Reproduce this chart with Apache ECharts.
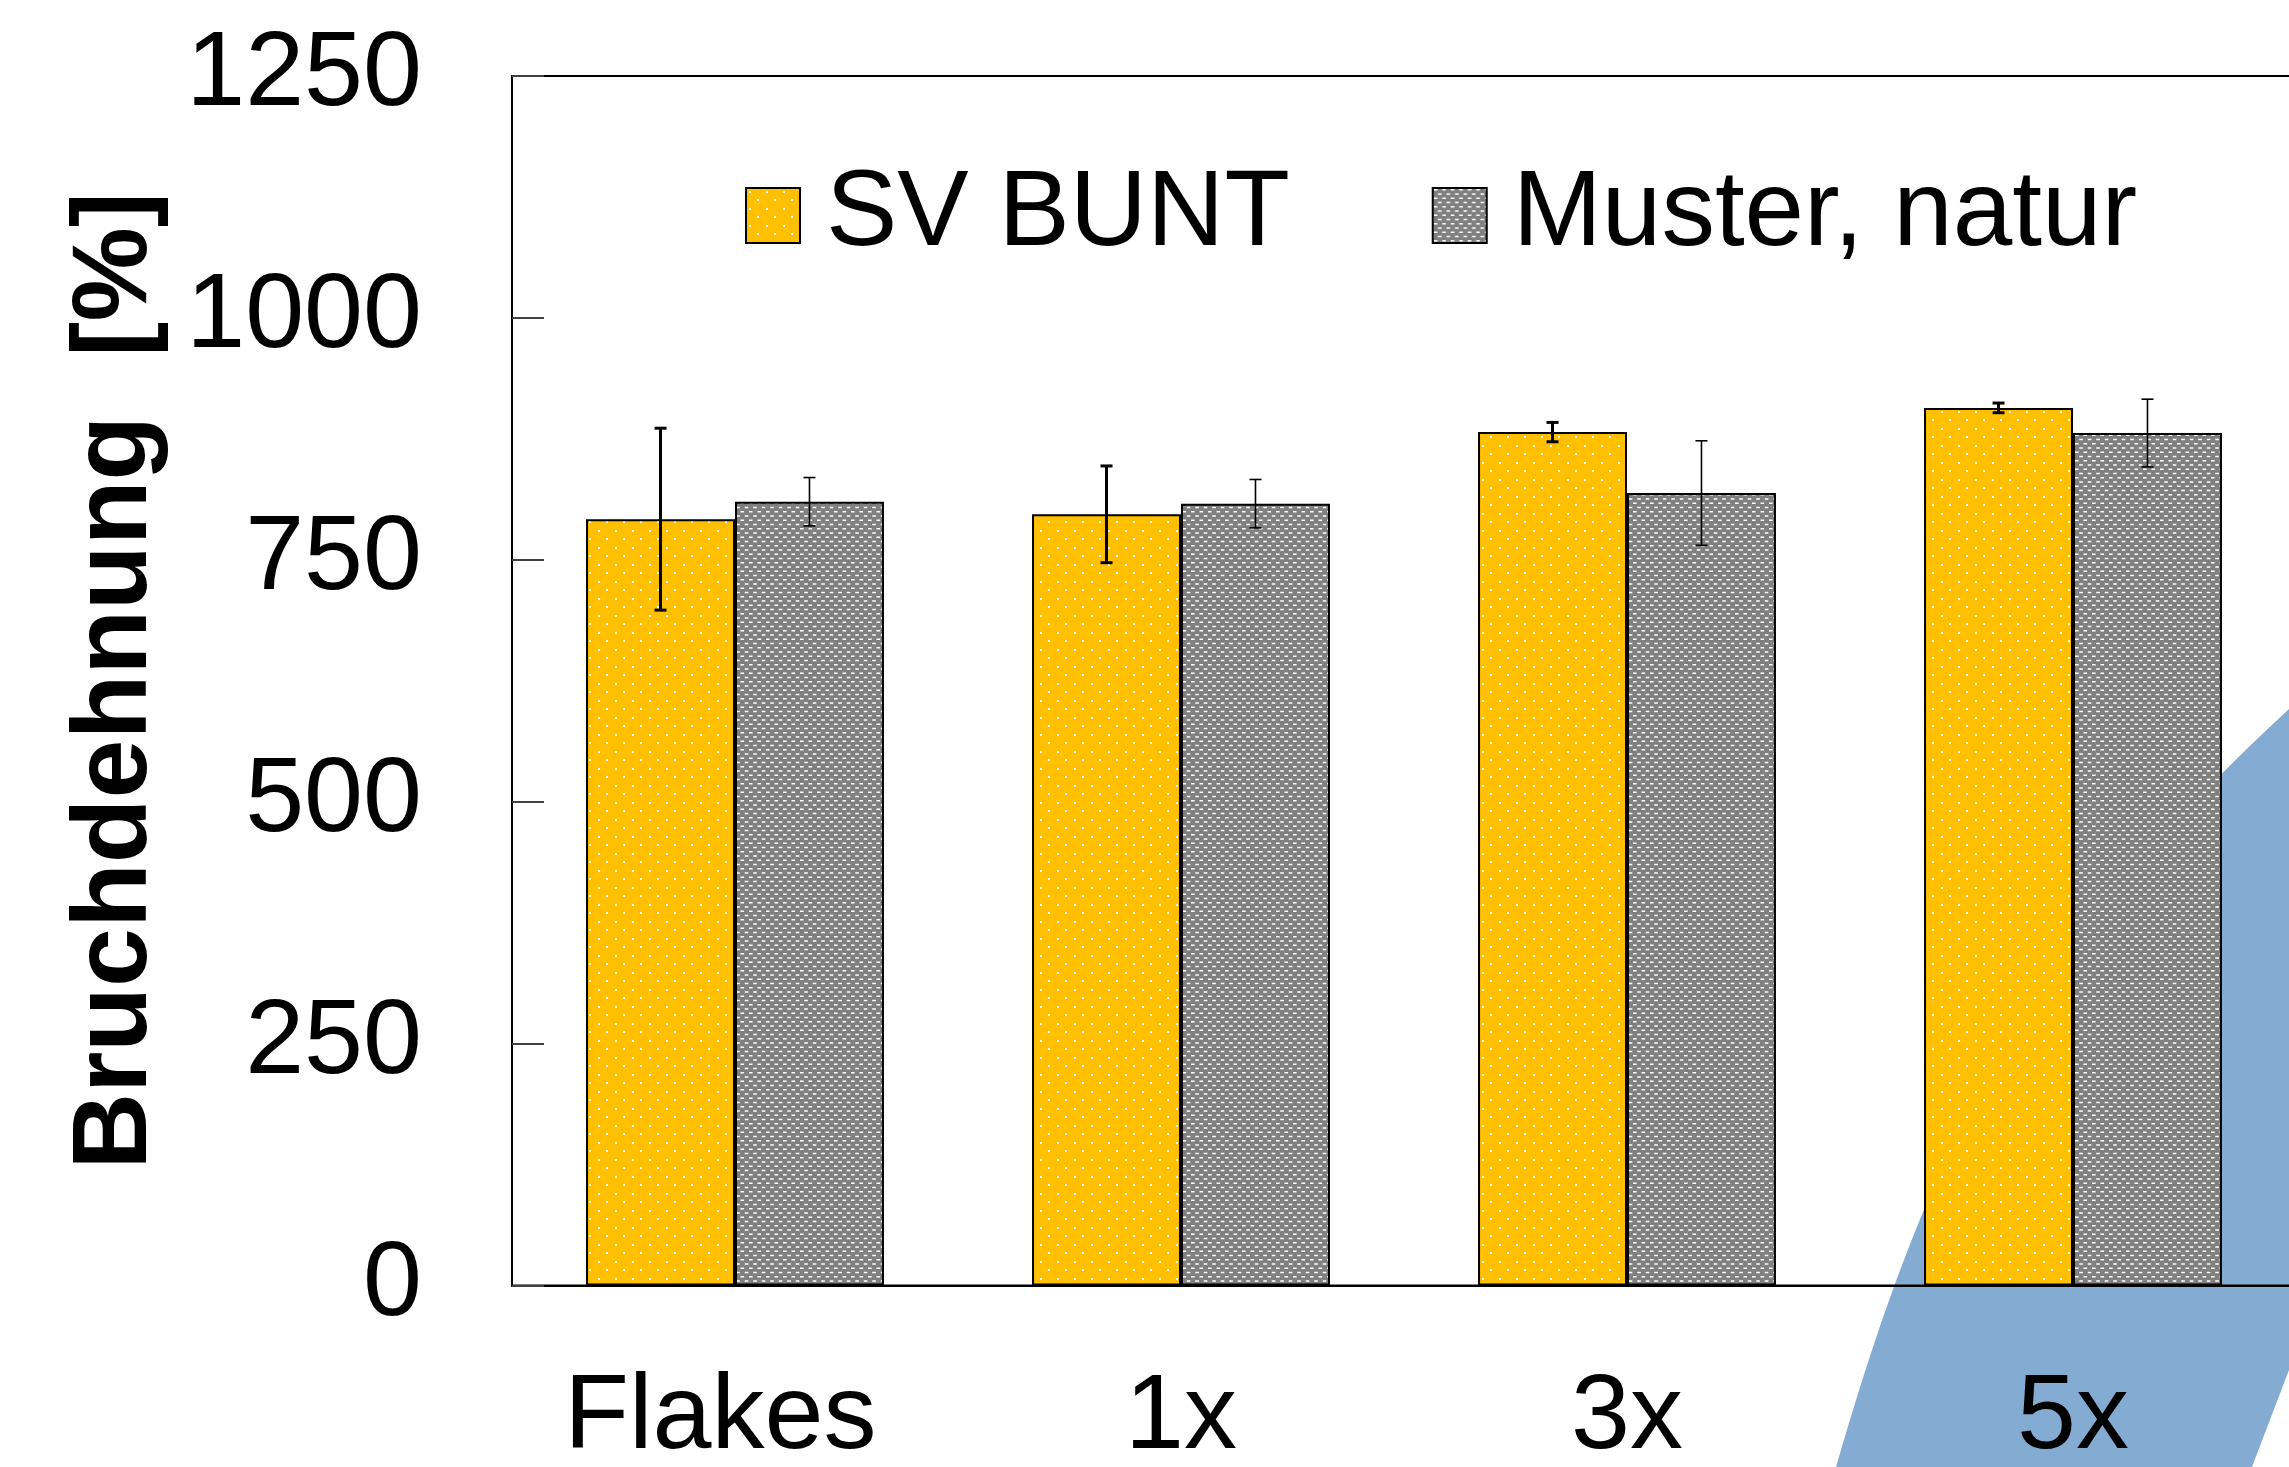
<!DOCTYPE html>
<html><head><meta charset="utf-8">
<script src="https://cdn.jsdelivr.net/npm/echarts@6/dist/echarts.min.js"></script>
<style>html,body{margin:0;padding:0;background:#fff}#c{width:2289px;height:1467px}</style>
</head><body><div id="c"></div>
<script>
// ---- data ----
const categories = ['Flakes', '1x', '3x', '5x'];
const seriesNames = ['SV BUNT', 'Muster, natur'];
const svBunt = [792, 797, 882, 907];
const svBuntErr = [94, 50, 10, 5];
const muster = [810, 808, 819, 881];
const musterErr = [25, 25, 54, 35];
const yMin = 0, yMax = 1250, yStep = 250;
const yAxisTitle = 'Bruchdehnung  [%]';

// ---- patterns ----
function dotPattern() {
  const c = document.createElement('canvas'); c.width = 17; c.height = 17;
  const g = c.getContext('2d');
  g.fillStyle = '#FFC000'; g.fillRect(0, 0, 17, 17);
  g.fillStyle = '#ffffff';
  g.fillRect(3, 3, 2, 2); g.fillRect(11, 11, 2, 2);
  return c;
}
function grayPattern() {
  const c = document.createElement('canvas'); c.width = 17; c.height = 17;
  const g = c.getContext('2d');
  g.fillStyle = '#808080'; g.fillRect(0, 0, 17, 17);
  g.fillStyle = '#ffffff';
  for (let r = 0; r < 4; r++) {
    const y = r * 4.25 + 1;
    const xo = (r % 2) * 4.25;
    for (let k = -1; k < 3; k++) {
      g.fillRect(xo + k * 8.5 + 1, y, 3.6, 1.5);
    }
  }
  return c;
}
const yellowFill = { image: dotPattern(), repeat: 'repeat' };
const grayFill = { image: grayPattern(), repeat: 'repeat' };

const FONT = "'Liberation Sans', Arial, sans-serif";

// decorative background band (slide artwork), sampled cubic curve
function bandPoints() {
  const P0 = [2289, 709], C1 = [2032, 947], C2 = [1933, 1131], P3 = [1836, 1467];
  const pts = [[2300, 699]];
  for (let i = 0; i <= 40; i++) {
    const t = i / 40, u = 1 - t;
    const a = u * u * u, b = 3 * u * u * t, c = 3 * u * t * t, d = t * t * t;
    pts.push([a * P0[0] + b * C1[0] + c * C2[0] + d * P3[0], a * P0[1] + b * C1[1] + c * C2[1] + d * P3[1]]);
  }
  pts.push([1832, 1480], [2247, 1480], [2289, 1370], [2300, 1341]);
  return pts;
}

function errRender(sign, lw) {
  return function (params, api) {
    const ci = api.value(0), v = api.value(1), e = api.value(2);
    const band = api.size([1, 0])[0];
    const off = sign * band * 0.167;
    const top = api.coord([ci, v + e]);
    const bot = api.coord([ci, v - e]);
    const x = top[0] + off;
    const cap = 6;
    const st = { stroke: '#000', lineWidth: lw };
    return {
      type: 'group',
      children: [
        { type: 'line', shape: { x1: x, y1: top[1], x2: x, y2: bot[1] }, style: st },
        { type: 'line', shape: { x1: x - cap, y1: top[1], x2: x + cap, y2: top[1] }, style: st },
        { type: 'line', shape: { x1: x - cap, y1: bot[1], x2: x + cap, y2: bot[1] }, style: st }
      ]
    };
  };
}

const chart = echarts.init(document.getElementById('c'), null, { renderer: 'canvas' });
chart.setOption({
  animation: false,
  backgroundColor: '#ffffff',
  textStyle: { fontFamily: FONT },
  graphic: [{
    type: 'polygon', z: -10, silent: true,
    shape: { points: bandPoints() },
    style: { fill: '#84ACD3' }
  }],
  legend: {
    data: seriesNames,
    left: 745, top: 162, padding: 0,
    itemWidth: 54, itemHeight: 55, itemGap: 142,
    icon: 'rect',
    textStyle: { fontSize: 107, color: '#000', fontFamily: FONT, padding: [0, 0, 0, 21] }
  },
  grid: {
    left: 512, top: 76, width: 1784, height: 1209.5,
    outerBoundsMode: 'none', containLabel: false,
    show: true, borderColor: '#000', borderWidth: 2, backgroundColor: 'transparent'
  },
  xAxis: {
    type: 'category', data: categories,
    axisLine: { lineStyle: { color: '#000', width: 2 } },
    axisTick: { show: false },
    axisLabel: {
      fontSize: 106, color: '#000', margin: 80, fontFamily: FONT,
      formatter: v => (v === 'Flakes' ? v + ' ' : v)
    },
    splitLine: { show: false }
  },
  yAxis: {
    type: 'value', min: yMin, max: yMax, interval: yStep,
    axisLine: { show: true, lineStyle: { color: '#000', width: 2 } },
    axisTick: { show: true, inside: true, length: 32, lineStyle: { color: '#404040', width: 2 } },
    splitLine: { show: false },
    axisLabel: { fontSize: 106, color: '#000', margin: 90, fontFamily: FONT, formatter: v => String(v) },
    name: yAxisTitle, nameLocation: 'middle', nameGap: 342, nameRotate: 90,
    nameTextStyle: { fontSize: 106, fontWeight: 'bold', color: '#000', fontFamily: FONT }
  },
  series: [
    {
      name: seriesNames[0], type: 'bar', data: svBunt, barWidth: '33.4%', barGap: '0%',
      itemStyle: { color: yellowFill, borderColor: '#000', borderWidth: 2 }
    },
    {
      name: seriesNames[1], type: 'bar', data: muster, barWidth: '33.4%', barGap: '0%',
      itemStyle: { color: grayFill, borderColor: '#000', borderWidth: 2 }
    },
    {
      name: 'err1', type: 'custom', z: 5,
      data: categories.map((c, i) => [i, svBunt[i], svBuntErr[i]]),
      renderItem: errRender(-1, 3)
    },
    {
      name: 'err2', type: 'custom', z: 5,
      data: categories.map((c, i) => [i, muster[i], musterErr[i]]),
      renderItem: errRender(1, 1.6)
    }
  ]
});
</script></body></html>
